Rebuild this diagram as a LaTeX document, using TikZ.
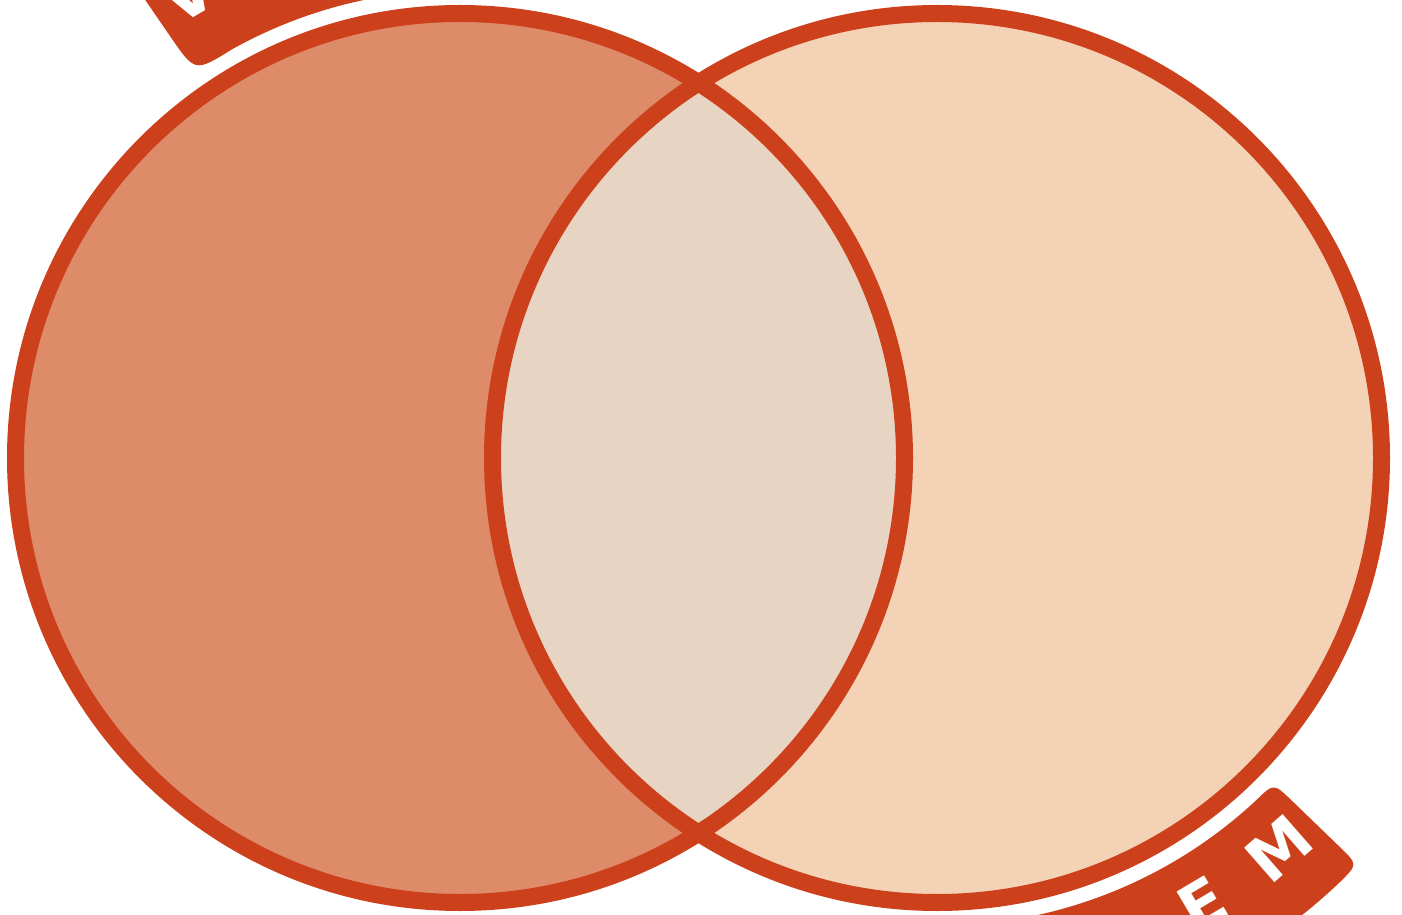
\documentclass[tikz,border=0pt]{standalone}
\usepackage{fontspec}
\newfontfamily\bandfont{DejaVu Sans}
\definecolor{vstroke}{HTML}{CC411C}
\definecolor{vleft}{HTML}{DE8B6A}
\definecolor{vright}{HTML}{F3D2B6}
\definecolor{vlens}{HTML}{E8D4C3}
\tikzset{
  ring/.style={draw=vstroke, line width=17pt},
  bandfill/.style={fill=vstroke},
  bandletter/.style={text=white, font=\bandfont\bfseries\fontsize{63}{63}\selectfont, inner sep=0pt, anchor=center}
}
\begin{document}
\begin{tikzpicture}[x=1pt,y=1pt]
\useasboundingbox (0,0) rectangle (1402,914);
\clip (0,0) rectangle (1402,914);
\coordinate (L) at (460,456);
\coordinate (R) at (937,456);
% fills
\fill[vleft] (L) circle[radius=444.5pt];
\fill[vright] (R) circle[radius=444.5pt];
\begin{scope}
  \clip (L) circle[radius=444.5pt];
  \fill[vlens] (R) circle[radius=444.5pt];
\end{scope}
% outlines
\draw[ring] (L) circle[radius=444.5pt];
\draw[ring] (R) circle[radius=444.5pt];
% top-left band (left set)
\begin{scope}[shift={(L)}]
  \fill[bandfill] (119.2:468pt) arc[start angle=119.2, end angle=83.06, radius=468pt]
    .. controls (80:468pt) .. (80:493pt) -- (80:560pt)
    .. controls (80:585pt) .. (82.45:585pt)
    arc[start angle=82.45, end angle=122.05, radius=585pt]
    .. controls (124.5:585pt) .. (124.5:560pt) -- (124.5:511pt)
    .. controls (124.5:468pt) .. (119.2:468pt) -- cycle;
  \node[bandletter, rotate=30.4] (t1) at (120.4:537pt) {V};
  \node[bandletter, rotate=20.2] (t2) at (110.2:537pt) {I};
  \node[bandletter, rotate=10] (t3) at (100:537pt) {E};
  \node[bandletter, rotate=-0.2] (t4) at (89.8:537pt) {W};
\end{scope}
% bottom-right band (right set)
\begin{scope}[shift={(R)}]
  \fill[bandfill] (-84.94:468pt) arc[start angle=-84.94, end angle=-47.06, radius=468pt]
    .. controls (-44:468pt) .. (-44:493pt) -- (-44:560pt)
    .. controls (-44:585pt) .. (-46.45:585pt)
    arc[start angle=-46.45, end angle=-85.55, radius=585pt]
    .. controls (-88:585pt) .. (-88:560pt) -- (-88:493pt)
    .. controls (-88:468pt) .. (-84.94:468pt) -- cycle;
  \node[bandletter, rotate=9.4] (b1) at (-80.6:519pt) {I};
  \node[bandletter, rotate=20] (b2) at (-70:519pt) {T};
  \node[bandletter, rotate=30.7] (b3) at (-59.3:519pt) {E};
  \node[bandletter, rotate=41.2] (b4) at (-48.8:519pt) {M};
\end{scope}
\end{tikzpicture}
\end{document}
